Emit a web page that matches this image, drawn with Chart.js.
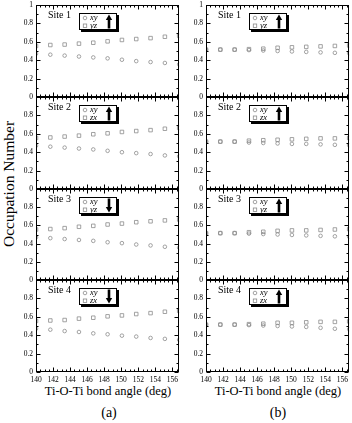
<!DOCTYPE html>
<html>
<head>
<meta charset="utf-8">
<script src="https://cdn.jsdelivr.net/npm/chart.js@4.4.1/dist/chart.umd.min.js"></script>
<style>
  body { margin: 0; background: #fff; width: 352px; height: 423px; position: relative; overflow: hidden; font-family: "Liberation Serif", serif; }
  canvas { position: absolute; }
  .t { position: absolute; white-space: nowrap; color: #000; transform: translate(-50%, -50%); line-height: 1; }
</style>
</head>
<body>
<div class="t" style="left:9px;top:184px;font-size:15.5px;transform:translate(-50%,-50%) rotate(-90deg)">Occupation Number</div>
<div class="t" style="left:108px;top:391px;font-size:12.5px">Ti-O-Ti bond angle (deg)</div>
<div class="t" style="left:278px;top:391px;font-size:12.5px">Ti-O-Ti bond angle (deg)</div>
<div class="t" style="left:109px;top:413px;font-size:14px">(a)</div>
<div class="t" style="left:278px;top:413px;font-size:14px">(b)</div>
<script>
// bond angles (deg) of the computed points
const angles = [140, 141.68, 143.36, 145.04, 146.72, 148.4, 150.08, 151.76, 153.44, 155.12, 156.8];
const xTicks = [140, 142, 144, 146, 148, 150, 152, 154, 156];
const yTicks = [0, 0.2, 0.4, 0.6, 0.8, 1];
const siteNames = ["Site 1", "Site 2", "Site 3", "Site 4"];
const secondOrbital = ["yz", "zx", "yz", "zx"];
const arrowsA = ["up", "up", "down", "down"];
const arrowsB = ["up", "up", "up", "up"];

// panel (a)
const a1xy = [0.47, 0.46, 0.45, 0.44, 0.43, 0.42, 0.405, 0.39, 0.38, 0.37, 0.355];
const a1yz = [0.555, 0.565, 0.57, 0.58, 0.59, 0.605, 0.62, 0.63, 0.64, 0.655, 0.665];
const a2xy = [0.47, 0.46, 0.45, 0.44, 0.43, 0.415, 0.40, 0.39, 0.38, 0.365, 0.355];
const a2zx = [0.555, 0.56, 0.57, 0.58, 0.595, 0.605, 0.62, 0.63, 0.64, 0.655, 0.665];
const a3xy = [0.47, 0.46, 0.45, 0.44, 0.43, 0.415, 0.405, 0.39, 0.38, 0.365, 0.355];
const a3yz = [0.555, 0.56, 0.57, 0.585, 0.595, 0.61, 0.62, 0.635, 0.645, 0.655, 0.665];
const a4xy = [0.47, 0.46, 0.445, 0.435, 0.42, 0.41, 0.395, 0.385, 0.37, 0.36, 0.35];
const a4zx = [0.555, 0.56, 0.565, 0.58, 0.59, 0.605, 0.615, 0.63, 0.64, 0.655, 0.665];

// panel (b)
const b1xy = [0.515, 0.515, 0.515, 0.51, 0.505, 0.50, 0.495, 0.49, 0.485, 0.48, 0.475];
const b1yz = [0.515, 0.515, 0.515, 0.52, 0.525, 0.535, 0.54, 0.545, 0.55, 0.555, 0.56];
const b2xy = [0.515, 0.515, 0.515, 0.505, 0.50, 0.495, 0.49, 0.49, 0.485, 0.48, 0.475];
const b2zx = [0.515, 0.515, 0.515, 0.525, 0.53, 0.535, 0.54, 0.545, 0.55, 0.55, 0.555];
const b3xy = [0.515, 0.515, 0.515, 0.51, 0.505, 0.50, 0.495, 0.49, 0.485, 0.48, 0.475];
const b3yz = [0.515, 0.515, 0.515, 0.525, 0.53, 0.54, 0.545, 0.545, 0.55, 0.555, 0.56];
const b4xy = [0.515, 0.515, 0.515, 0.51, 0.505, 0.50, 0.495, 0.49, 0.48, 0.47, 0.465];
const b4zx = [0.515, 0.515, 0.515, 0.52, 0.525, 0.535, 0.535, 0.54, 0.545, 0.545, 0.55];

const seriesA = [[a1xy, a1yz], [a2xy, a2zx], [a3xy, a3yz], [a4xy, a4zx]];
const seriesB = [[b1xy, b1yz], [b2xy, b2zx], [b3xy, b3yz], [b4xy, b4zx]];

const rowTop = [5, 97, 189, 280];
const rowBottom = [97, 189, 280, 372];
const markColor = "#8c8c8c";
const serif = "Liberation Serif";

// frame with inward ticks, site name and the little legend box
const panelDeco = {
    id: "panelDeco",
    afterDraw(chart, args, o) {
        const ctx = chart.ctx;
        const a = chart.chartArea;
        const x = chart.scales.x, y = chart.scales.y;
        const L = Math.round(a.left) + 0.5, R = Math.round(a.right) - 0.5;
        const T = Math.round(a.top) + 0.5, B = Math.round(a.bottom) - 0.5;
        ctx.save();
        ctx.strokeStyle = "#000";
        ctx.lineWidth = 1;
        ctx.strokeRect(L, T, R - L, B - T);

        ctx.beginPath();
        for (let v = 140; v <= 156.8; v += 0.5) {
            const px = Math.round(x.getPixelForValue(v)) + 0.5;
            const len = (v % 2 === 0) ? 4 : 2;
            ctx.moveTo(px, T); ctx.lineTo(px, T + len);
            ctx.moveTo(px, B); ctx.lineTo(px, B - len);
        }
        for (let k = 0; k <= 10; k++) {
            const py = Math.round(y.getPixelForValue(k / 10)) + 0.5;
            const len = (k % 2 === 0) ? 4 : 2;
            ctx.moveTo(L, py); ctx.lineTo(L + len, py);
            ctx.moveTo(R, py); ctx.lineTo(R - len, py);
        }
        ctx.stroke();

        ctx.fillStyle = "#000";
        ctx.textBaseline = "middle";
        ctx.font = "10px '" + serif + "'";
        ctx.fillText(o.site, a.left + 12, a.top + 10);

        const bx = Math.round(a.left) + 43, by = Math.round(a.top) + 8, bw = 38, bh = 17;
        ctx.fillRect(bx + 2, by + 2, bw, bh);
        ctx.fillStyle = "#fff";
        ctx.fillRect(bx, by, bw, bh);
        ctx.strokeRect(bx + 0.5, by + 0.5, bw - 1, bh - 1);

        ctx.strokeStyle = markColor;
        ctx.lineWidth = 0.8;
        ctx.beginPath();
        ctx.arc(bx + 6, by + 5, 1.8, 0, Math.PI * 2);
        ctx.stroke();
        ctx.strokeRect(bx + 4.3, by + 11, 3.4, 3.4);

        ctx.fillStyle = "#000";
        ctx.font = "italic 8.5px '" + serif + "'";
        ctx.fillText("xy", bx + 11, by + 5);
        ctx.fillText(o.second, bx + 11, by + 12.5);

        // arrow
        const ax = bx + 30;
        ctx.beginPath();
        if (o.arrow === "up") {
            ctx.moveTo(ax, by + 1.5);
            ctx.lineTo(ax + 3.2, by + 7);
            ctx.lineTo(ax - 3.2, by + 7);
            ctx.closePath();
            ctx.fill();
            ctx.fillRect(ax - 1.3, by + 6, 2.6, 9.5);
        } else {
            ctx.moveTo(ax, by + 15.5);
            ctx.lineTo(ax + 3.2, by + 10);
            ctx.lineTo(ax - 3.2, by + 10);
            ctx.closePath();
            ctx.fill();
            ctx.fillRect(ax - 1.3, by + 1.5, 2.6, 9.5);
        }
        ctx.restore();
    }
};

function makePanel(col, row) {
    const last = row === 3;
    const vals = col === 0 ? seriesA[row] : seriesB[row];
    const arrow = col === 0 ? arrowsA[row] : arrowsB[row];
    const cv = document.createElement("canvas");
    const h = rowBottom[row] - rowTop[row];
    cv.width = 184;
    cv.height = h + 6 + (last ? 20 : 6);
    cv.style.left = (col === 0 ? 0 : 170) + "px";
    cv.style.top = (rowTop[row] - 6) + "px";
    document.body.appendChild(cv);

    const pts = arr => angles.map((a, i) => ({ x: a, y: arr[i] }));

    new Chart(cv, {
        type: "scatter",
        data: {
            datasets: [
                { label: "xy", data: pts(vals[0]), pointStyle: "circle", pointRadius: 1.8, borderColor: markColor, backgroundColor: "rgba(0,0,0,0)", borderWidth: 0.8 },
                { label: secondOrbital[row], data: pts(vals[1]), pointStyle: "rect", pointRadius: 2.5, borderColor: markColor, backgroundColor: "rgba(0,0,0,0)", borderWidth: 0.8 }
            ]
        },
        options: {
            responsive: false,
            animation: false,
            events: [],
            layout: { padding: { top: 6, bottom: 6, left: 0, right: 4 } },
            plugins: {
                legend: { display: false },
                tooltip: { enabled: false },
                panelDeco: { site: siteNames[row], second: secondOrbital[row], arrow: arrow }
            },
            scales: {
                x: {
                    type: "linear", min: 140, max: 156.8, display: last,
                    grid: { display: false, drawTicks: false }, border: { display: false },
                    afterBuildTicks: s => { s.ticks = xTicks.map(v => ({ value: v })); },
                    afterFit: s => { s.height = last ? 14 : 0; s.paddingLeft = 0; s.paddingRight = 0; },
                    ticks: { font: { family: serif, size: 7.5 }, color: "#000", padding: 4, maxRotation: 0, autoSkip: false, callback: v => String(v) }
                },
                y: {
                    min: 0, max: 1,
                    grid: { display: false, drawTicks: false }, border: { display: false },
                    afterBuildTicks: s => { s.ticks = yTicks.map(v => ({ value: v })); },
                    afterFit: s => { s.width = 36; s.paddingTop = 0; s.paddingBottom = 0; },
                    ticks: { font: { family: serif, size: 7.5 }, color: "#000", padding: 3, autoSkip: false, callback: v => (row > 0 && v === 1) ? "" : String(v) }
                }
            }
        },
        plugins: [panelDeco]
    });
}

for (let col = 0; col < 2; col++) {
    for (let row = 0; row < 4; row++) {
        makePanel(col, row);
    }
}
</script>
</body>
</html>
